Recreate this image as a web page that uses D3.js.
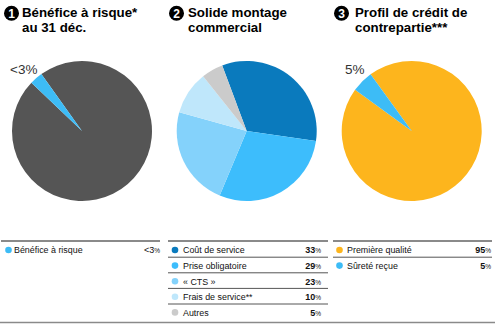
<!DOCTYPE html>
<html><head><meta charset="utf-8">
<script src="https://cdn.jsdelivr.net/npm/d3@7"></script>
<style>
html,body{margin:0;padding:0;background:#fff;}
text{font-family:"Liberation Sans",Arial,sans-serif;}
</style></head>
<body>
<svg id="c" width="495" height="324"></svg>
<script>
// ---- data ----
const panelNumbers = ["1", "2", "3"];
const titleLines1 = ["Bénéfice à risque*", "au 31 déc."];
const titleLines2 = ["Solide montage", "commercial"];
const titleLines3 = ["Profil de crédit de", "contrepartie***"];

const pie1Categories = ["Reste", "Bénéfice à risque"];
const pie1Values = [97, 3];
const pie1Colors = ["#555555", "#3dbcf6"];
const pie1Label = "<3%";

const pie2Categories = ["Coût de service", "Prise obligatoire", "« CTS »", "Frais de service**", "Autres"];
const pie2Values = [33, 29, 23, 10, 5];
const pie2Colors = ["#0a7abd", "#3dbdfc", "#84d2fb", "#bfe7fb", "#cbcbcb"];

const pie3Categories = ["Première qualité", "Sûreté reçue"];
const pie3Values = [95, 5];
const pie3Colors = ["#fdb51d", "#3dbcf6"];
const pie3Label = "5%";

const legend1Labels = ["Bénéfice à risque"];
const legend1Values = ["<3"];
const legend1Colors = ["#3dbcf6"];
const legend2Labels = pie2Categories;
const legend2Values = ["33", "29", "23", "10", "5"];
const legend3Labels = pie3Categories;
const legend3Values = ["95", "5"];

// ---- drawing ----
const svg = d3.select("#c");
const deg = Math.PI / 180;

const panels = [
  {x0: 0,   title: titleLines1, num: panelNumbers[0], cats: pie1Categories, vals: pie1Values, cols: pie1Colors,
   start: -35.5, cx: 82, label: pie1Label, lx: 10, tx: 22,
   leg: {labels: legend1Labels, values: legend1Values, colors: legend1Colors, bold: false, lineX0: 1, lineX1: 160, dotX: 8.5, textX: 14, valX: 160}},
  {x0: 165, title: titleLines2, num: panelNumbers[1], cats: pie2Categories, vals: pie2Values, cols: pie2Colors,
   start: -20.5, cx: 246.7, label: null, tx: 188,
   leg: {labels: legend2Labels, values: legend2Values, colors: pie2Colors, bold: true, lineX0: 168, lineX1: 328, dotX: 175, textX: 183, valX: 321}},
  {x0: 330, title: titleLines3, num: panelNumbers[2], cats: pie3Categories, vals: pie3Values, cols: pie3Colors,
   start: -36, cx: 411.7, label: pie3Label, lx: 345, tx: 355,
   leg: {labels: legend3Labels, values: legend3Values, colors: pie3Colors, bold: true, lineX0: 333, lineX1: 492, dotX: 339.5, textX: 347, valX: 491}}
];

const cy = 131, R = 70;
const arc = d3.arc().innerRadius(0).outerRadius(R);

panels.forEach(p => {
  // numbered circle
  const ncx = p.x0 + 11.5;
  svg.append("circle").attr("cx", ncx).attr("cy", 13.3).attr("r", 7.5).attr("fill", "#000");
  svg.append("text").attr("x", ncx).attr("y", 17.6).attr("text-anchor", "middle")
    .attr("font-size", 12).attr("font-weight", "bold").attr("fill", "#fff").text(p.num);
  // title
  p.title.forEach((t, i) => {
    svg.append("text").attr("x", p.tx).attr("y", 16.5 + i * 15).attr("font-size", 13.3)
      .attr("font-weight", "bold").attr("fill", "#000").text(t);
  });
  // pie
  const pie = d3.pie().sort(null).value(d => d)
    .startAngle(p.start * deg).endAngle(p.start * deg + 2 * Math.PI);
  const g = svg.append("g").attr("transform", `translate(${p.cx},${cy})`);
  g.selectAll("path").data(pie(p.vals)).join("path")
    .attr("d", arc).attr("fill", (d, i) => p.cols[i]);
  if (p.label) {
    svg.append("text").attr("x", p.lx).attr("y", 74).attr("font-size", 13.5)
      .attr("fill", "#333").text(p.label);
  }
  // legend
  const L = p.leg;
  svg.append("line").attr("x1", L.lineX0).attr("x2", L.lineX1).attr("y1", 241).attr("y2", 241)
    .attr("stroke", "#8a8a8a").attr("stroke-width", 2);
  const rowY = d3.scaleLinear().domain([0, 1]).range([250, 265.6]);
  L.labels.forEach((lab, i) => {
    const y = rowY(i);
    svg.append("circle").attr("cx", L.dotX).attr("cy", y).attr("r", 3.3).attr("fill", L.colors[i]);
    svg.append("text").attr("x", L.textX).attr("y", y + 3.3).attr("font-size", 8.9)
      .attr("fill", "#111").text(lab);
    const vt = svg.append("text").attr("x", L.valX).attr("y", y + 3.3).attr("text-anchor", "end")
      .attr("font-size", 9).attr("font-weight", L.bold ? "bold" : "normal").attr("fill", "#111");
    vt.append("tspan").text(L.values[i]);
    vt.append("tspan").attr("font-size", 6.5).attr("font-weight", "normal").text("%");
    if (i < L.labels.length - 1) {
      svg.append("line").attr("x1", L.lineX0).attr("x2", L.lineX1)
        .attr("y1", y + 7.2).attr("y2", y + 7.2).attr("stroke", "#555").attr("stroke-width", 1);
    }
  });
});
// bottom rule
svg.append("line").attr("x1", 0).attr("x2", 495).attr("y1", 322.5).attr("y2", 322.5)
  .attr("stroke", "#8a8a8a").attr("stroke-width", 1.5);
</script>
</body></html>
